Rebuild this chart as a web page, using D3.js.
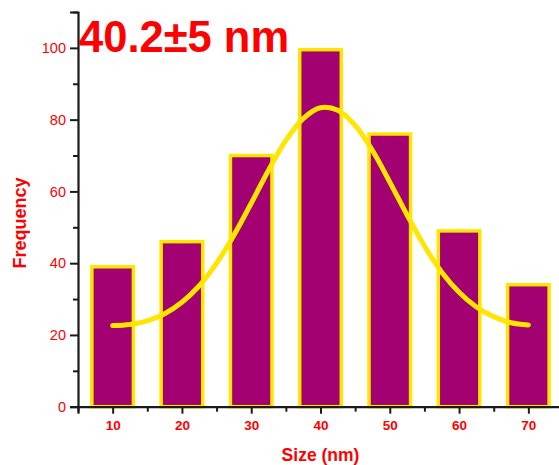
<!DOCTYPE html>
<html>
<head>
<meta charset="utf-8">
<script src="https://cdn.jsdelivr.net/npm/d3@7"></script>
<style>
  html, body { margin: 0; padding: 0; background: #fff; }
  svg { display: block; }
  text { font-family: Arial, "Liberation Sans", Helvetica, sans-serif; }
</style>
</head>
<body>
<svg id="chart" width="559" height="465"></svg>
<script>
// Particle size histogram (bin centres, nm) and counts per bin
const sizes = [10, 20, 30, 40, 50, 60, 70];
const counts = [39, 46, 70, 99.5, 76, 49, 34];

// Gaussian fit curve, sampled points (size nm, frequency)
const fitX = [10, 12.5, 15, 17.5, 20, 22.5, 25, 27.5, 30, 32.5, 35, 37.5, 40, 42.5, 45, 47.5, 50, 52.5, 55, 57.5, 60, 62.5, 65, 67.5, 70];
const fitY = [22.6, 22.9, 23.9, 25.9, 29.1, 33.7, 40.0, 47.8, 56.7, 65.9, 74.2, 80.3, 83.3, 82.6, 78.4, 71.4, 62.6, 53.4, 44.8, 37.5, 31.9, 27.8, 25.1, 23.4, 22.8];

const xTicks = [10, 20, 30, 40, 50, 60, 70];
const xMinorTicks = [5, 15, 25, 35, 45, 55, 65, 75];
const yTicks = [0, 20, 40, 60, 80, 100];
const yMinorTicks = [10, 30, 50, 70, 90, 110];

const title = "40.2±5 nm";
const xLabel = "Size (nm)";
const yLabel = "Frequency";
const binWidth = 6;

const svg = d3.select("#chart");
const plotLeft = 78, plotRight = 563, plotTop = 12, plotBottom = 406.7;

const x = d3.scaleLinear().domain([5, 75]).range([plotLeft, plotRight]);
const y = d3.scaleLinear().domain([0, 110]).range([plotBottom, plotTop]);

const red = "#ff0000";
const axisColor = "#1a1a1a";

// Bars
svg.append("g").selectAll("rect")
  .data(sizes.map((s, i) => ({ s, c: counts[i] })))
  .join("rect")
  .attr("x", d => x(d.s - binWidth / 2))
  .attr("width", d => x(d.s + binWidth / 2) - x(d.s - binWidth / 2))
  .attr("y", d => y(d.c))
  .attr("height", d => y(0) - y(d.c))
  .attr("fill", "#a30072")
  .attr("stroke", "#ffe600")
  .attr("stroke-width", 3.5);

// Fit curve
const line = d3.line()
  .x(d => x(d[0]))
  .y(d => y(d[1]))
  .curve(d3.curveCatmullRom);
svg.append("path")
  .datum(fitX.map((v, i) => [v, fitY[i]]))
  .attr("d", line)
  .attr("fill", "none")
  .attr("stroke", "#ffe500")
  .attr("stroke-width", 5)
  .attr("stroke-linecap", "round");

// Y axis
const yAxis = svg.append("g").attr("transform", `translate(${plotLeft},0)`)
  .call(d3.axisLeft(y).tickValues(yTicks).tickSize(8).tickPadding(4).tickFormat(d3.format("d")));
svg.append("g").attr("transform", `translate(${plotLeft},0)`)
  .call(d3.axisLeft(y).tickValues(yMinorTicks).tickSize(5).tickFormat(""))
  .call(g => g.select(".domain").remove());

// X axis
const xAxis = svg.append("g").attr("transform", `translate(0,${plotBottom})`)
  .call(d3.axisBottom(x).tickValues(xTicks).tickSize(7).tickPadding(7).tickFormat(d3.format("d")));
svg.append("g").attr("transform", `translate(0,${plotBottom})`)
  .call(d3.axisBottom(x).tickValues(xMinorTicks).tickSize(5).tickFormat(""))
  .call(g => g.select(".domain").remove());

svg.selectAll(".domain").attr("stroke", axisColor).attr("stroke-width", 2.2);
svg.selectAll(".tick line").attr("stroke", axisColor).attr("stroke-width", 2);
yAxis.selectAll(".tick text").attr("fill", red).attr("font-size", 14.5).attr("font-family", "Arial, 'Liberation Sans', sans-serif");
xAxis.selectAll(".tick text").attr("fill", red).attr("font-size", 13.5).attr("font-weight", "bold").attr("font-family", "Arial, 'Liberation Sans', sans-serif");

// Axis titles
svg.append("text")
  .attr("x", (plotLeft + plotRight) / 2)
  .attr("y", 460.5)
  .attr("text-anchor", "middle")
  .attr("fill", red)
  .attr("font-size", 17.5)
  .attr("font-weight", "bold")
  .text(xLabel);

svg.append("text")
  .attr("transform", "translate(26,223) rotate(-90)")
  .attr("text-anchor", "middle")
  .attr("fill", red)
  .attr("font-size", 18)
  .attr("font-weight", "bold")
  .text(yLabel);

// Mean size annotation
svg.append("text")
  .attr("x", 79)
  .attr("y", 51.5)
  .attr("fill", red)
  .attr("font-size", 43.5)
  .attr("font-weight", "bold")
  .text(title);
</script>
</body>
</html>
